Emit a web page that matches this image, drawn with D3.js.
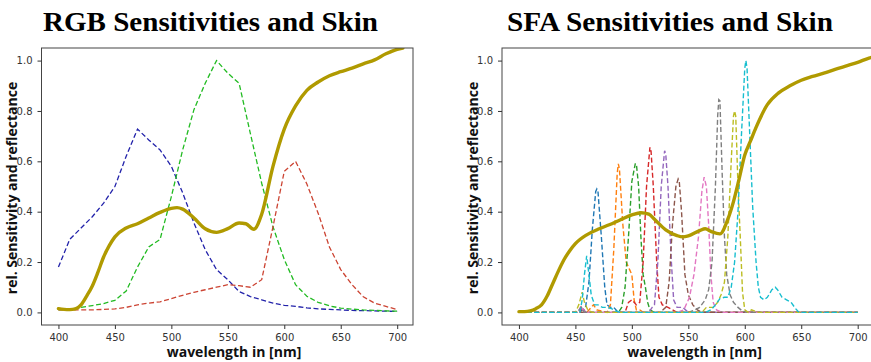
<!DOCTYPE html>
<html>
<head>
<meta charset="utf-8">
<script src="https://cdn.jsdelivr.net/npm/d3@7"></script>
<style>
  body { margin: 0; background: #fff; }
  svg { display: block; }
  .tick text { font-family: "DejaVu Sans", sans-serif; font-size: 10px; fill: #333; }
  .tick line { stroke: #333; }
  .domain { display: none; }
</style>
</head>
<body>
<svg id="chart"></svg>
<script>
const width = 871;
const height = 362;

// wavelength axis / value axis
const xTicks = [400, 450, 500, 550, 600, 650, 700];
const yTicks = [0.0, 0.2, 0.4, 0.6, 0.8, 1.0];

// RGB camera sensitivities, 10 nm steps
const rgbWl = [400, 410, 420, 430, 440, 450, 460, 470, 480, 490, 500, 510, 520, 530, 540, 550,
  560, 570, 580, 590, 600, 610, 620, 630, 640, 650, 660, 670, 680, 690, 700];
const rgbBlue = [0.18, 0.29, 0.335, 0.38, 0.434, 0.5, 0.62, 0.728, 0.685, 0.645, 0.58, 0.475, 0.355, 0.249, 0.17, 0.13,
  0.083, 0.063, 0.05, 0.037, 0.028, 0.024, 0.018, 0.014, 0.012, 0.01, 0.008, 0.007, 0.006, 0.005, 0.004];
const rgbGreen = [0.01, 0.012, 0.02, 0.027, 0.035, 0.048, 0.085, 0.18, 0.26, 0.29, 0.46, 0.645, 0.805, 0.91, 1.0, 0.95,
  0.91, 0.71, 0.513, 0.34, 0.21, 0.11, 0.064, 0.04, 0.026, 0.017, 0.013, 0.01, 0.008, 0.006, 0.005];
const rgbRed = [0.01, 0.01, 0.01, 0.01, 0.012, 0.014, 0.02, 0.03, 0.037, 0.042, 0.055, 0.068, 0.08, 0.09, 0.1, 0.11,
  0.106, 0.1, 0.13, 0.34, 0.56, 0.6, 0.51, 0.394, 0.26, 0.17, 0.11, 0.062, 0.037, 0.024, 0.011];

// skin reflectance as plotted in the left panel
const skinRgbWl = [400, 405, 410, 415, 420, 425, 430, 435, 440, 445, 450, 460, 470, 480, 490, 500, 505, 510, 520, 530,
  540, 550, 560, 566, 573, 580, 590, 600, 610, 620, 630, 640, 650, 660, 670, 680, 690, 700, 705];
const skinRgb = [0.015, 0.012, 0.011, 0.014, 0.03, 0.065, 0.105, 0.16, 0.22, 0.265, 0.3, 0.335, 0.352, 0.375, 0.397, 0.413, 0.416, 0.41, 0.375, 0.332,
  0.318, 0.333, 0.355, 0.352, 0.33, 0.39, 0.58, 0.728, 0.82, 0.882, 0.915, 0.94, 0.956, 0.97, 0.987, 1.003, 1.027, 1.045, 1.05];

// skin reflectance as plotted in the right panel
const skinSfaWl = [400, 405, 410, 415, 420, 425, 430, 435, 440, 445, 450, 460, 470, 480, 490, 500, 508, 515, 520, 530,
  540, 545, 550, 560, 565, 570, 578, 585, 590, 595, 600, 605, 610, 620, 630, 640, 650, 660, 670, 680, 690, 700, 710, 714];
const skinSfa = [0.003, 0.003, 0.006, 0.015, 0.03, 0.065, 0.115, 0.165, 0.21, 0.245, 0.273, 0.308, 0.33, 0.348, 0.368, 0.387, 0.396, 0.39, 0.37, 0.328,
  0.305, 0.3, 0.304, 0.325, 0.332, 0.322, 0.312, 0.37, 0.44, 0.53, 0.625, 0.68, 0.735, 0.825, 0.872, 0.9, 0.922, 0.937, 0.95, 0.965, 0.979, 0.993, 1.01, 1.015];

// SFA filter channels: [wavelength, sensitivity]
const sfa469 = [[400, 0], [450, 0], [455, 0.005], [459, 0.02], [462, 0.12], [465, 0.33], [468, 0.48], [469, 0.49], [470, 0.48],
  [473, 0.3], [476, 0.1], [478, 0.03], [481, 0.02], [484, 0.02], [487, 0.005], [490, 0], [700, 0]];
const sfa488 = [[400, 0], [460, 0], [464, 0.02], [466, 0.03], [469, 0.01], [478, 0], [481, 0.03], [484, 0.25], [487, 0.55],
  [488, 0.59], [489, 0.57], [492, 0.35], [495, 0.2], [498, 0.17], [500, 0.15], [502, 0.05], [504, 0.01], [507, 0.01], [510, 0], [700, 0]];
const sfa503 = [[400, 0], [452, 0], [455, 0.02], [458, 0], [488, 0], [491, 0.02], [494, 0.1], [497, 0.3], [500, 0.52],
  [503, 0.59], [504, 0.59], [506, 0.5], [508, 0.3], [510, 0.15], [512, 0.1], [514, 0.04], [516, 0.01], [520, 0], [700, 0]];
const sfa516 = [[400, 0], [454, 0], [456, 0.02], [459, 0], [494, 0], [497, 0.04], [500, 0.05], [502, 0.04], [504, 0.03],
  [507, 0.04], [510, 0.2], [513, 0.5], [516, 0.656], [517, 0.64], [519, 0.5], [522, 0.2], [524, 0.06], [527, 0.03],
  [532, 0.02], [536, 0.01], [540, 0], [700, 0]];
const sfa529 = [[400, 0], [453, 0], [456, 0.02], [459, 0], [515, 0], [518, 0.02], [520, 0.03], [523, 0.2], [526, 0.5],
  [529, 0.642], [530, 0.63], [532, 0.5], [535, 0.2], [537, 0.05], [540, 0.02], [545, 0.02], [550, 0], [700, 0]];
const sfa541 = [[400, 0], [525, 0], [530, 0.02], [533, 0.12], [536, 0.35], [539, 0.5], [541, 0.53], [542, 0.52], [544, 0.4],
  [547, 0.15], [550, 0.07], [554, 0.03], [558, 0.01], [562, 0], [700, 0]];
const sfa565 = [[400, 0], [452, 0], [455, 0.025], [458, 0], [540, 0], [546, 0.01], [551, 0.06], [555, 0.15], [559, 0.3],
  [562, 0.48], [564, 0.537], [566, 0.5], [568, 0.35], [570, 0.15], [572, 0.04], [575, 0.01], [580, 0], [700, 0]];
const sfa578 = [[400, 0], [452, 0], [455, 0.02], [458, 0], [550, 0], [556, 0.01], [560, 0.02], [565, 0.05], [568, 0.09],
  [571, 0.2], [574, 0.5], [576, 0.78], [577, 0.845], [578, 0.84], [580, 0.55], [582, 0.3], [584, 0.15], [587, 0.07],
  [590, 0.04], [594, 0.02], [598, 0.005], [602, 0], [700, 0]];
const sfa591 = [[400, 0], [450, 0], [453, 0.03], [456, 0.08], [458, 0.04], [461, 0.01], [465, 0], [562, 0], [566, 0.02],
  [572, 0.02], [576, 0.04], [579, 0.07], [582, 0.12], [585, 0.3], [588, 0.6], [590, 0.78], [591, 0.8], [592, 0.78],
  [594, 0.5], [596, 0.3], [598, 0.08], [600, 0.01], [603, 0], [606, 0.01], [609, 0.005], [612, 0], [700, 0]];
const sfa601 = [[400, 0], [454, 0], [456, 0.05], [458, 0.15], [460, 0.225], [462, 0.15], [464, 0.07], [467, 0.03], [470, 0.03],
  [474, 0.02], [478, 0.02], [482, 0.015], [486, 0.005], [490, 0], [565, 0], [570, 0.01], [574, 0.03], [578, 0.055],
  [582, 0.06], [585, 0.06], [588, 0.1], [591, 0.2], [594, 0.4], [597, 0.7], [600, 0.97], [601, 1.0], [602, 0.97],
  [604, 0.75], [607, 0.42], [610, 0.2], [612, 0.1], [614, 0.06], [617, 0.05], [620, 0.06], [624, 0.09], [627, 0.1],
  [629, 0.09], [633, 0.06], [637, 0.05], [641, 0.04], [645, 0.015], [648, 0], [700, 0]];

const sfaChannels = [sfa469, sfa488, sfa503, sfa516, sfa529, sfa541, sfa565, sfa578, sfa591, sfa601];
const sfaColors = d3.schemeCategory10;

const skinColor = "#b09a00";

const svg = d3.select("#chart")
    .attr("width", width)
    .attr("height", height);

function zip(wl, vals) {
    return wl.map((w, i) => [w, vals[i]]);
}

function drawPanel(p) {
    const x = d3.scaleLinear().domain([385, 714]).range([p.left, p.left + 371.5]);
    const y = d3.scaleLinear().domain([-0.05, 1.05]).range([325, 48]);

    const g = svg.append("g");

    g.append("clipPath").attr("id", p.id)
        .append("rect")
        .attr("x", x.range()[0]).attr("y", 48)
        .attr("width", 371.5).attr("height", 277);

    const line = d3.line()
        .x(d => x(d[0]))
        .y(d => y(d[1]));

    const plot = g.append("g").attr("clip-path", `url(#${p.id})`);

    p.dashed.forEach(s => {
        plot.append("path")
            .datum(s.data)
            .attr("fill", "none")
            .attr("stroke", s.color)
            .attr("stroke-width", s.width)
            .attr("stroke-dasharray", "5,2.6")
            .attr("d", line);
    });

    // skin reflectance on top, smooth
    plot.append("path")
        .datum(p.skin)
        .attr("fill", "none")
        .attr("stroke", skinColor)
        .attr("stroke-width", 3.4)
        .attr("stroke-linejoin", "round")
        .attr("stroke-linecap", "round")
        .attr("d", line.curve(d3.curveMonotoneX));

    // frame
    g.append("rect")
        .attr("x", x.range()[0]).attr("y", 48)
        .attr("width", 371.5).attr("height", 277)
        .attr("fill", "none")
        .attr("stroke", "#444")
        .attr("stroke-width", 1);

    g.append("g")
        .attr("transform", "translate(0,325)")
        .call(d3.axisBottom(x).tickValues(xTicks).tickSize(4).tickPadding(5).tickFormat(d3.format("d")));

    g.append("g")
        .attr("transform", `translate(${x.range()[0]},0)`)
        .call(d3.axisLeft(y).tickValues(yTicks).tickSize(4).tickPadding(5).tickFormat(d3.format(".1f")));

    g.append("text")
        .attr("x", p.titleX)
        .attr("y", 30.5)
        .attr("textLength", p.titleLen)
        .attr("lengthAdjust", "spacingAndGlyphs")
        .style("font-family", "'Liberation Serif', 'Times New Roman', serif")
        .style("font-weight", "bold")
        .style("font-size", "27px")
        .text(p.title);

    g.append("text")
        .attr("transform", `translate(${p.left - 24.5},${188}) rotate(-90)`)
        .attr("text-anchor", "middle")
        .style("font-family", "'Open Sans', sans-serif")
        .style("font-weight", "bold")
        .style("font-size", "14px")
        .style("fill", "#111")
        .text("rel. Sensitivity and reflectance");

    g.append("text")
        .attr("x", p.left + 192.5)
        .attr("y", 357)
        .attr("text-anchor", "middle")
        .style("font-family", "'Open Sans', sans-serif")
        .style("font-weight", "bold")
        .style("font-size", "14px")
        .style("fill", "#111")
        .text("wavelength in [nm]");
}

drawPanel({
    id: "clipRgb",
    left: 41.5,
    title: "RGB Sensitivities and Skin",
    titleX: 43,
    titleLen: 335,
    dashed: [
        { data: zip(rgbWl, rgbBlue), color: "#2222aa", width: 1.3 },
        { data: zip(rgbWl, rgbGreen), color: "#22bb22", width: 1.3 },
        { data: zip(rgbWl, rgbRed), color: "#cc4433", width: 1.3 }
    ],
    skin: zip(skinRgbWl, skinRgb)
});

drawPanel({
    id: "clipSfa",
    left: 502,
    title: "SFA Sensitivities and Skin",
    titleX: 507,
    titleLen: 326,
    dashed: sfaChannels.map((c, i) => ({ data: c, color: sfaColors[i], width: 1.4 })),
    skin: zip(skinSfaWl, skinSfa)
});
</script>
</body>
</html>
